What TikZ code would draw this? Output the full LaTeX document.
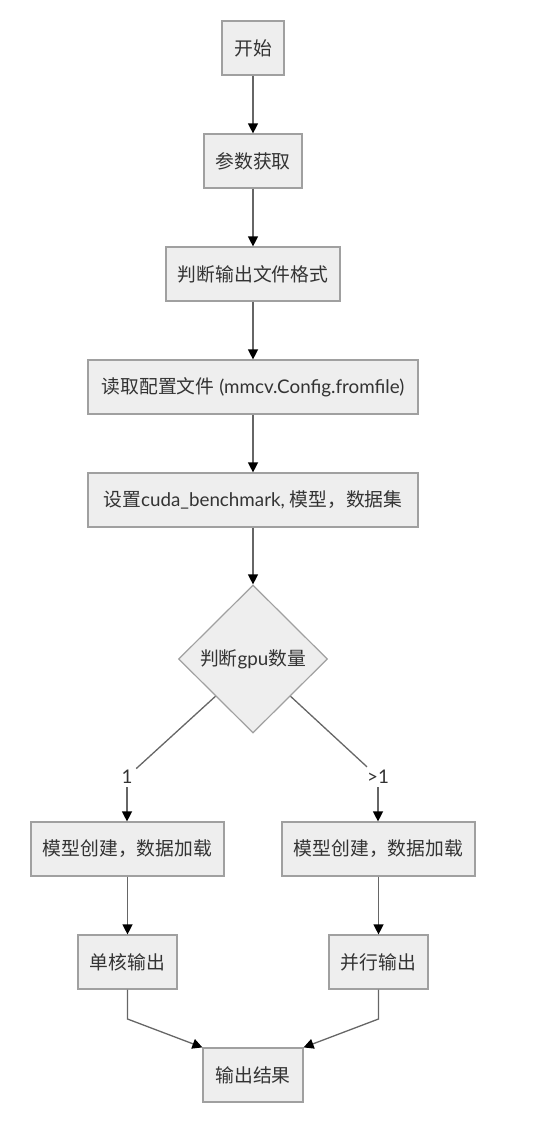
\documentclass[tikz,border=0pt]{standalone}
\usepackage{fontspec}
\setmainfont{Lato}
\newfontfamily\cjk{Noto Sans CJK SC}
\usetikzlibrary{shapes.geometric,arrows.meta,calc}
\definecolor{boxfill}{HTML}{EEEEEE}
\definecolor{boxline}{HTML}{A0A0A0}
\definecolor{conn}{HTML}{666666}
\definecolor{txt}{HTML}{333333}
\begin{document}
\begin{tikzpicture}[x=1pt,y=-1pt,
  stepbox/.style={draw=boxline,fill=boxfill,line width=1.2pt,inner sep=0pt,minimum height=54pt,text=txt,font=\fontsize{18.8}{22}\selectfont},
  decbox/.style={draw=boxline,fill=boxfill,line width=1.2pt,shape=diamond,inner sep=0pt,minimum width=149pt,minimum height=148pt,text=txt,font=\fontsize{18.8}{22}\selectfont},
  lbl/.style={inner sep=2pt,minimum width=18pt,minimum height=20pt,text=txt,font=\fontsize{18.8}{22}\selectfont},
  arr/.style={draw=conn,line width=1.3pt,-{Triangle[length=10pt,width=10pt,color=black]}},
  ln/.style={draw=conn,line width=1.3pt}]
\useasboundingbox (0,0) rectangle (549,1128);
\node[stepbox,minimum width=62pt] (b1) at (253,48) {\cjk 开始};
\node[stepbox,minimum width=98pt] (b2) at (253,161) {\cjk 参数获取};
\node[stepbox,minimum width=174pt] (b3) at (253,274) {\cjk 判断输出文件格式};
\node[stepbox,minimum width=330pt] (b4) at (253,387) {{\cjk 读取配置文件} (mmcv.Config.fromfile)};
\node[stepbox,minimum width=330pt] (b5) at (253,500) {{\cjk 设置}cuda\_benchmark, {\cjk 模型，数据集}};
\node[decbox] (d) at (253,659) {{\cjk 判断}gpu{\cjk 数量}};
\node[lbl] (l1) at (127,777) {1};
\node[lbl] (l2) at (378,777) {>1};
\node[stepbox,minimum width=193pt] (b7) at (127.5,849) {\cjk 模型创建，数据加载};
\node[stepbox,minimum width=193pt] (b8) at (378.5,849) {\cjk 模型创建，数据加载};
\node[stepbox,minimum width=99pt] (b9) at (127.5,962) {\cjk 单核输出};
\node[stepbox,minimum width=99pt] (b10) at (378.5,962) {\cjk 并行输出};
\node[stepbox,minimum width=100pt] (b11) at (253,1075) {\cjk 输出结果};
\coordinate (dl) at ($(d.west)!0.5!(d.south)$);
\coordinate (dr) at ($(d.east)!0.5!(d.south)$);
\coordinate (c1) at (127.5,1019);
\coordinate (c2) at (378.5,1019);
\draw[arr] (b1) -- (b2);
\draw[arr] (b2) -- (b3);
\draw[arr] (b3) -- (b4);
\draw[arr] (b4) -- (b5);
\draw[arr] (b5) -- (d);
\draw[ln] (dl) -- (l1);
\draw[ln] (dr) -- (l2);
\draw[arr] (l1) -- (l1 |- b7.north);
\draw[arr] (l2) -- (l2 |- b8.north);
\draw[arr] (b7) -- (b9);
\draw[arr] (b8) -- (b10);
\draw[arr] (b9.south) -- (c1) -- (b11.north west);
\draw[arr] (b10.south) -- (c2) -- (b11.north east);
\end{tikzpicture}
\end{document}
